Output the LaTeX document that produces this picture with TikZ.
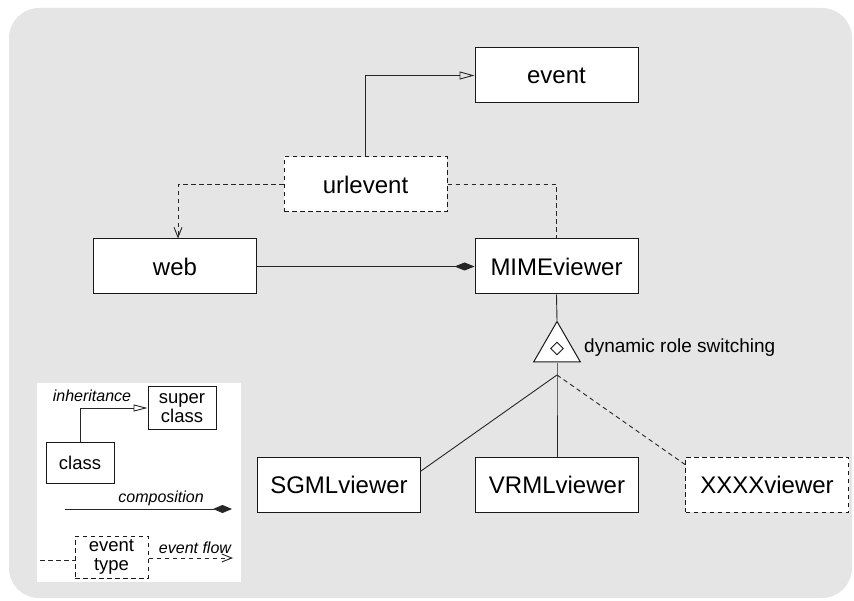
\documentclass[tikz,border=0pt]{standalone}
\usepackage{fontspec}
\setmainfont{Liberation Sans}
\usetikzlibrary{arrows.meta,shapes.geometric}
\begin{document}
\begin{tikzpicture}[x=1pt,y=-1pt,
  ln/.style={line width=0.9pt, draw=black!85},
  dsh/.style={dash pattern=on 4.5pt off 3.5pt},
  box/.style={draw=black!90, line width=1pt, fill=white, minimum width=163pt, minimum height=55pt, inner sep=0pt, font=\fontsize{24}{26}\selectfont},
  lbox/.style={draw=black!90, line width=1pt, fill=white, minimum width=68pt, minimum height=42pt, inner sep=0pt, align=center, font=\fontsize{18.5}{18.5}\selectfont},
  lbl/.style={font=\fontsize{16}{18}\selectfont\itshape, inner sep=0pt},
  inh/.style={-{Triangle[open,length=15pt,width=8pt]}},
  comp/.style={-{Diamond[length=20pt,width=8pt]}},
  flow/.style={-{Straight Barb[length=10pt,width=8pt]}}
]
\useasboundingbox (0,0) rectangle (854,601);
\fill[black!10, rounded corners=30pt] (9,8) rectangle (852,598);

% main nodes
\node[box] (event) at (556.5,75.5) {event};
\node[box,dsh] (urlevent) at (365.5,184.5) {urlevent};
\node[box] (web) at (175,266.5) {web};
\node[box] (mime) at (556.5,266.5) {MIMEviewer};
\node[box] (sgml) at (339,485) {SGMLviewer};
\node[box] (vrml) at (557,485) {VRMLviewer};
\node[box,dsh] (xxxx) at (767,484.5) {XXXXviewer};

\node[regular polygon, regular polygon sides=3, minimum size=54pt, inner sep=0pt, draw=black!90, line width=1pt, fill=white] (tri) at (557,348.5) {};
\node[diamond, draw=black!90, line width=0.9pt, minimum size=13pt, inner sep=0pt] (dmd) at (tri.center) {};
\node[anchor=west, inner sep=0pt, font=\fontsize{19}{21}\selectfont] (drs) at (584,348) {dynamic role switching};
\coordinate (junc) at (557,375);

% connectors
\draw[ln,inh] (urlevent.north) |- (event.west);
\draw[ln,dsh,flow] (urlevent.west) -| ([xshift=3pt]web.north);
\draw[ln,dsh] (urlevent.east) -| (mime.north);
\draw[ln,comp] (web.east) -- (mime.west);
\draw[ln] (mime.south) -- (tri.corner 1);
\draw[ln] (tri.south) -- (junc) -- (vrml.north);
\draw[ln] (junc) -- ([yshift=14pt]sgml.east);
\draw[ln,dsh] (junc) -- ([yshift=20pt]xxxx.west);

% legend
\node[fill=white, minimum width=204pt, minimum height=199pt, inner sep=0pt, anchor=north west] (legend) at (37,383) {};
\node[lbox] (super) at (182,408) {super\\class};
\node[lbox, minimum height=41pt] (class) at (80,462.5) {class};
\draw[ln,-{Triangle[open,length=14pt,width=7pt]}] (class.north) |- (super.west);
\node[lbl] (inhl) at (92,396) {inheritance};
\node[lbl, anchor=east] (compl) at (204,498) {composition};
\coordinate (c1) at (65,509);
\coordinate (c2) at (232,509);
\draw[ln,-{Diamond[length=19pt,width=8pt]}] (c1) -- (c2);
\node[lbox,dsh, minimum width=73pt] (etype) at (111.5,557) {event\\type};
\coordinate (e1) at (40,560);
\coordinate (e2) at (233,558);
\draw[ln,dsh] (e1) -- (e1 -| etype.west);
\draw[ln,dsh,flow] (etype.east |- e2) -- (e2);
\node[lbl] (flowl) at (195,548) {event flow};
\end{tikzpicture}
\end{document}
